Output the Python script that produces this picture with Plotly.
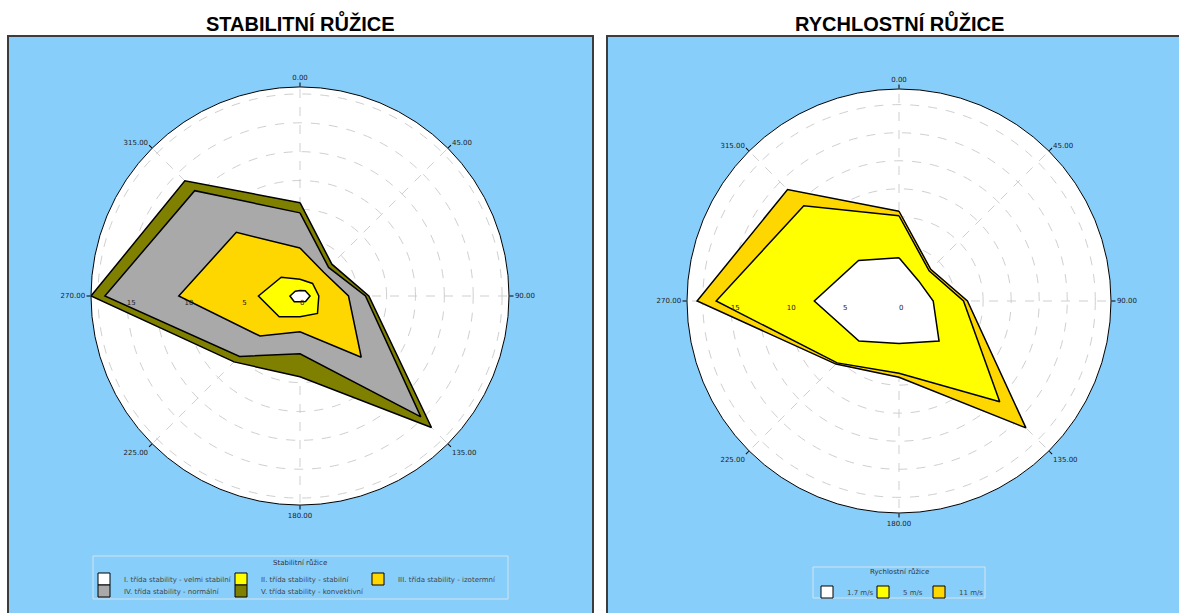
import plotly.graph_objects as go

# ---------------- data ----------------
directions = [0, 45, 90, 135, 180, 225, 270, 315]
direction_labels = ["0.00", "45.00", "90.00", "135.00", "180.00", "225.00", "270.00", "315.00"]

# stability rose (cumulative values per direction)
stab_I = [0.47, 0.64, 0.87, 0.68, 0.50, 0.70, 0.87, 0.58]
stab_II = [1.45, 1.54, 1.63, 2.14, 1.80, 2.55, 3.60, 2.30]
stab_III = [4.16, 2.90, 4.20, 7.50, 3.10, 4.90, 10.50, 7.80]
stab_IV = [7.20, 3.50, 5.67, 14.80, 5.00, 7.40, 16.90, 12.90]
stab_V = [8.08, 3.90, 5.96, 16.10, 7.00, 8.07, 18.10, 14.10]
stab_names = [
    "I. třída stability - velmi stabilní",
    "II. třída stability - stabilní",
    "III. třída stability - izotermní",
    "IV. třída stability - normální",
    "V. třída stability - konvektivní",
]
stab_colors = ["#FFFFFF", "#FFFF00", "#FFD700", "#A9A9A9", "#808000"]

# speed rose (cumulative values per direction)
speed_1_7 = [3.85, 2.50, 3.05, 5.05, 3.80, 5.05, 7.55, 5.10]
speed_5 = [7.60, 3.80, 5.75, 12.70, 6.45, 7.80, 16.30, 12.00]
speed_11 = [8.00, 4.00, 6.10, 16.00, 6.80, 7.95, 18.00, 14.05]
speed_names = ["1.7 m/s", "5 m/s", "11 m/s"]
speed_colors = ["#FFFFFF", "#FFFF00", "#FFD700"]

radial_ticks = [0, 2.5, 5, 7.5, 10, 12.5, 15, 17.5]
radial_ticktext = ["0", "", "5", "", "10", "", "15", ""]

W, H = 1179, 613
BLUE = "#87CEFA"


def closed(vals):
    return list(vals) + [vals[0]]


fig = go.Figure()

stab_series = [stab_I, stab_II, stab_III, stab_IV, stab_V]
# polygons: largest first so smaller ones sit on top
for vals, col, name in reversed(list(zip(stab_series, stab_colors, stab_names))):
    fig.add_trace(go.Scatterpolar(
        r=closed(vals), theta=closed(directions), mode="lines", fill="toself",
        fillcolor=col, line=dict(color="black", width=1.5), name=name,
        showlegend=False, subplot="polar", hoverinfo="r+theta+name"))

speed_series = [speed_1_7, speed_5, speed_11]
for vals, col, name in reversed(list(zip(speed_series, speed_colors, speed_names))):
    fig.add_trace(go.Scatterpolar(
        r=closed(vals), theta=closed(directions), mode="lines", fill="toself",
        fillcolor=col, line=dict(color="black", width=1.5), name=name,
        showlegend=False, subplot="polar2", hoverinfo="r+theta+name"))

# legend entries
for i, (name, col) in enumerate(zip(stab_names, stab_colors)):
    fig.add_trace(go.Scatterpolar(
        r=[None], theta=[None], mode="markers", name=name,
        marker=dict(symbol="square", size=12, color=col, line=dict(color="black", width=1)),
        subplot="polar", legend="legend" if i < 3 else "legend2", showlegend=True,
        legendwidth=130 if i in (2, 4) else None))
for j, (name, col) in enumerate(zip(speed_names, speed_colors)):
    fig.add_trace(go.Scatterpolar(
        r=[None], theta=[None], mode="markers", name=name,
        marker=dict(symbol="square", size=12, color=col, line=dict(color="black", width=1)),
        subplot="polar2", legend="legend3", showlegend=True,
        legendwidth=34 if j == len(speed_names) - 1 else None))


def px_x(x):
    return x / W


def px_y(y):
    return (H - y) / H


def polar_layout(cx, cy, R, rmax):
    return dict(
        domain=dict(x=[px_x(cx - R), px_x(cx + R)], y=[px_y(cy + R), px_y(cy - R)]),
        bgcolor="white",
        angularaxis=dict(
            rotation=90, direction="clockwise", tickmode="array",
            tickvals=directions, ticktext=direction_labels,
            tickfont=dict(family="DejaVu Sans", size=7, color="#222"),
            showline=True, linecolor="black", linewidth=1,
            ticks="outside", ticklen=4, tickcolor="black",
            showgrid=True, gridcolor="#cfcfcf", griddash="dash", gridwidth=1,
        ),
        radialaxis=dict(
            range=[0, rmax], angle=180, tickangle=180, side="counterclockwise",
            tickmode="array", tickvals=radial_ticks, ticktext=radial_ticktext,
            tickfont=dict(family="DejaVu Sans", size=7, color="#222"),
            showline=False, ticks="", showgrid=True, gridcolor="#cfcfcf",
            griddash="dash", gridwidth=1,
        ),
    )


legend_common = dict(
    orientation="h", bgcolor="rgba(0,0,0,0)", borderwidth=0,
    font=dict(family="DejaVu Sans", size=7, color="#444"),
    xanchor="left", yanchor="middle", entrywidthmode="pixels",
    itemclick=False, itemdoubleclick=False,
)

fig.update_layout(
    width=W, height=H,
    margin=dict(l=0, r=0, t=0, b=0),
    paper_bgcolor="white",
    polar=polar_layout(300, 296, 209, 18.1),
    polar2=polar_layout(899, 301, 212, 18.9),
    legend=dict(legend_common, x=px_x(84), y=px_y(579), entrywidth=92),
    legend2=dict(legend_common, x=px_x(84), y=px_y(591), entrywidth=92),
    legend3=dict(legend_common, x=px_x(807), y=px_y(592), entrywidth=11),
    shapes=[
        # panels
        dict(type="rect", xref="paper", yref="paper", x0=px_x(8), x1=px_x(593),
             y0=-0.05, y1=px_y(36), fillcolor=BLUE, line=dict(color="#3c3c3c", width=2),
             layer="below"),
        dict(type="rect", xref="paper", yref="paper", x0=px_x(607), x1=1.05,
             y0=-0.05, y1=px_y(36), fillcolor=BLUE, line=dict(color="#3c3c3c", width=2),
             layer="below"),
        # legend frames
        dict(type="rect", xref="paper", yref="paper", x0=px_x(93), x1=px_x(508),
             y0=px_y(599), y1=px_y(556), fillcolor=BLUE,
             line=dict(color="#d5e4ef", width=1), layer="below"),
        dict(type="rect", xref="paper", yref="paper", x0=px_x(813), x1=px_x(985),
             y0=px_y(598), y1=px_y(567), fillcolor=BLUE,
             line=dict(color="#d5e4ef", width=1), layer="below"),
    ],
    annotations=[
        dict(text="<b>STABILITNÍ RŮŽICE</b>", x=px_x(300), y=px_y(23), xref="paper", yref="paper",
             showarrow=False, font=dict(family="Liberation Sans", size=20, color="black"),
             xanchor="center", yanchor="middle"),
        dict(text="<b>RYCHLOSTNÍ RŮŽICE</b>", x=px_x(899), y=px_y(23), xref="paper", yref="paper",
             showarrow=False, font=dict(family="Liberation Sans", size=20, color="black"),
             xanchor="center", yanchor="middle"),
        dict(text="Stabilitní růžice", x=px_x(300), y=px_y(563), xref="paper", yref="paper",
             showarrow=False, font=dict(family="DejaVu Sans", size=7, color="#333"),
             xanchor="center", yanchor="middle"),
        dict(text="Rychlostní růžice", x=px_x(899), y=px_y(572), xref="paper", yref="paper",
             showarrow=False, font=dict(family="DejaVu Sans", size=7, color="#333"),
             xanchor="center", yanchor="middle"),
    ],
)

fig.write_html("out.html")
